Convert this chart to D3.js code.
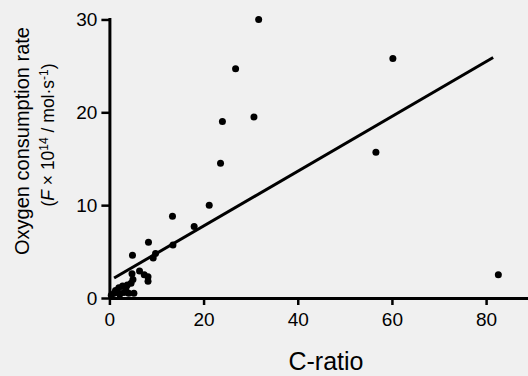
<!DOCTYPE html>
<html>
<head>
<meta charset="utf-8">
<script src="https://cdn.jsdelivr.net/npm/d3@7"></script>
<style>
  html, body { margin: 0; padding: 0; background: #f0f0f0; }
  svg { display: block; font-family: "Liberation Sans", Arial, Helvetica, sans-serif; }
</style>
</head>
<body>
<div class="chart"></div>
<script>
// C-ratio vs oxygen consumption rate
const cRatio = [31.7, 26.8, 24.0, 30.7, 23.6, 21.2, 13.4, 18.0, 13.5, 8.3,
  60.2, 56.6, 82.6, 4.9, 9.8, 9.3,
  6.4, 7.4, 8.2, 8.2, 4.8, 5.0, 4.6, 3.8, 2.8, 2.0, 1.3, 1.0, 3.1, 4.1, 5.2, 0.4, 2.2, 3.5];
const o2Rate = [30.0, 24.7, 19.0, 19.5, 14.5, 10.0, 8.8, 7.7, 5.7, 6.0,
  25.8, 15.7, 2.5, 4.6, 4.8, 4.3,
  2.9, 2.5, 1.8, 2.3, 2.6, 2.0, 1.6, 1.4, 1.3, 1.1, 0.8, 0.5, 0.6, 0.5, 0.5, 0.3, 0.4, 1.0];

// fitted line end points
const fitX = [1, 81.5];
const fitY = [2.15, 25.9];

const xTicks = [0, 20, 40, 60, 80];
const yTicks = [0, 10, 20, 30];

const width = 528, height = 376;

const svg = d3.select('.chart').append('svg')
  .attr('width', width).attr('height', height);

const x = d3.scaleLinear().domain([0, 88.9]).range([109.4, 528]);
const y = d3.scaleLinear().domain([0, 30.2]).range([298, 17.6]);

// x axis
const gx = svg.append('g')
  .attr('transform', 'translate(0,' + y(0) + ')')
  .call(d3.axisBottom(x).tickValues(xTicks).tickSize(7).tickSizeOuter(0).tickPadding(8));

// y axis
const gy = svg.append('g')
  .attr('transform', 'translate(' + x(0) + ',0)')
  .call(d3.axisLeft(y).tickValues(yTicks).tickSize(8).tickSizeOuter(0).tickPadding(4));

[gx, gy].forEach(g => {
  g.select('.domain').attr('stroke', '#000').attr('stroke-width', 3);
  g.selectAll('.tick line').attr('stroke', '#000').attr('stroke-width', 2.5);
  g.selectAll('.tick text').attr('fill', '#000')
    .style('font-size', '19px').style('font-family', '"Liberation Sans", Arial, sans-serif');
});

// regression line
const line = d3.line().x(d => x(d[0])).y(d => y(d[1]));
svg.append('path')
  .datum(d3.zip(fitX, fitY))
  .attr('fill', 'none')
  .attr('stroke', '#000')
  .attr('stroke-width', 3)
  .attr('d', line);

// points
svg.selectAll('circle.pt').data(d3.zip(cRatio, o2Rate)).enter()
  .append('circle')
  .attr('class', 'pt')
  .attr('cx', d => x(d[0]))
  .attr('cy', d => y(d[1]))
  .attr('r', 3.5)
  .attr('fill', '#000');

// axis titles
svg.append('text')
  .attr('x', 326).attr('y', 370)
  .attr('text-anchor', 'middle')
  .style('font-size', '25px')
  .text('C-ratio');

svg.append('text')
  .attr('transform', 'translate(29,141) rotate(-90)')
  .attr('text-anchor', 'middle')
  .style('font-size', '20px')
  .text('Oxygen consumption rate');

const sub = svg.append('text')
  .attr('transform', 'translate(54,135) rotate(-90)')
  .attr('text-anchor', 'middle')
  .style('font-size', '17.5px');
sub.append('tspan').text('(');
sub.append('tspan').style('font-style', 'italic').text('F');
sub.append('tspan').text(' \u00d7 10');
sub.append('tspan').attr('dy', -6).style('font-size', '12px').text('14');
sub.append('tspan').attr('dy', 6).text(' / mol\u00b7s');
sub.append('tspan').attr('dy', -6).style('font-size', '12px').text('-1');
sub.append('tspan').attr('dy', 6).text(')');
</script>
</body>
</html>
